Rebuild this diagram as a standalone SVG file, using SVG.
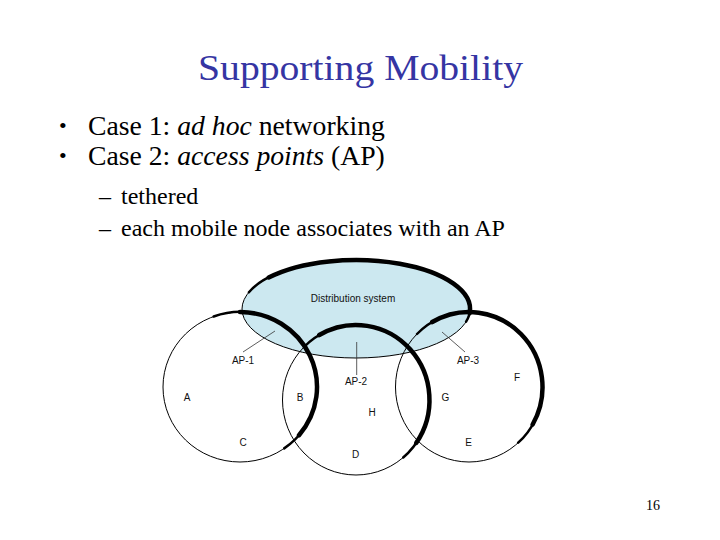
<svg xmlns="http://www.w3.org/2000/svg" width="720" height="540" viewBox="0 0 720 540">
<style>
.serif{font-family:"Liberation Serif","Times New Roman",serif;fill:#000}
.title{font-family:"Liberation Serif","Times New Roman",serif;fill:#3535a3;font-size:36px}
.lbl{font-family:"Liberation Sans",Arial,sans-serif;font-size:10px;fill:#111;text-anchor:middle}
.thin{fill:none;stroke:#000;stroke-width:1}
.thick{fill:none;stroke:#000;stroke-width:4.5;stroke-linecap:round}
.taper{fill:none;stroke:#000;stroke-width:2.5;stroke-linecap:round}
.lead{stroke:#333;stroke-width:0.8;fill:none}
</style>
<rect width="720" height="540" fill="#fff"/>
<text class="title" x="198" y="80" textLength="325" lengthAdjust="spacingAndGlyphs">Supporting Mobility</text>
<g class="serif">
<text x="59" y="133" font-size="22">•</text>
<text x="88" y="135" font-size="27.7">Case 1: <tspan font-style="italic">ad hoc</tspan> networking</text>
<text x="59" y="163" font-size="22">•</text>
<text x="88" y="165" font-size="27.7">Case 2: <tspan font-style="italic">access points</tspan> (AP)</text>
<text x="99" y="204" font-size="24">–</text>
<text x="121" y="204" font-size="24">tethered</text>
<text x="99" y="236" font-size="24">–</text>
<text x="121" y="236" font-size="24">each mobile node associates with an AP</text>
<text x="653" y="510" font-size="14" text-anchor="middle">16</text>
</g>
<g id="distribution-system">
<ellipse cx="356" cy="309" rx="114" ry="49" fill="#cce8f0" stroke="#000" stroke-width="1"/>
<path class="taper" d="M248.9,292.2 A114,49 0 0 1 466.1,321.7"/>
<path class="thick" d="M268.7,277.5 A114,49 0 0 1 469.6,313.3"/>
<text class="lbl" x="353" y="302">Distribution system</text>
</g>
<g id="bss-1">
<ellipse class="thin" cx="240" cy="387" rx="77" ry="75"/>
<path class="taper" d="M213.7,316.5 A77,75 0 0 1 284.2,448.4"/>
<path class="thick" d="M240,312 A77,75 0 0 1 299,435.2"/>
</g>
<g id="bss-2">
<ellipse class="thin" cx="356" cy="400" rx="73.5" ry="75"/>
<path class="taper" d="M304,347 A73.5,75 0 1 1 403.2,457.5"/>
<path class="thick" d="M319.25,335.05 A73.5,75 0 0 1 416.2,443"/>
</g>
<g id="bss-3">
<ellipse class="thin" cx="469" cy="387" rx="73.5" ry="75"/>
<path class="taper" d="M417,334 A73.5,75 0 1 1 518.2,442.7"/>
<path class="thick" d="M432.25,322.05 A73.5,75 0 0 1 532.65,424.5"/>
</g>
<g id="connectors">
<line class="lead" x1="275" y1="331" x2="243" y2="352"/>
<line class="lead" x1="356.7" y1="342" x2="356.7" y2="375"/>
<line class="lead" x1="442" y1="332" x2="465" y2="352"/>
</g>
<g id="ap-1"><text class="lbl" x="243" y="364">AP-1</text></g>
<g id="ap-2"><text class="lbl" x="356" y="385">AP-2</text></g>
<g id="ap-3"><text class="lbl" x="468" y="364">AP-3</text></g>
<g id="station-a"><text class="lbl" x="187" y="400.5">A</text></g>
<g id="station-b"><text class="lbl" x="300" y="400.5">B</text></g>
<g id="station-c"><text class="lbl" x="243" y="446">C</text></g>
<g id="station-d"><text class="lbl" x="355.5" y="458">D</text></g>
<g id="station-e"><text class="lbl" x="468.5" y="446">E</text></g>
<g id="station-f"><text class="lbl" x="517" y="381">F</text></g>
<g id="station-g"><text class="lbl" x="445.5" y="400.5">G</text></g>
<g id="station-h"><text class="lbl" x="372" y="415.5">H</text></g>
</svg>
